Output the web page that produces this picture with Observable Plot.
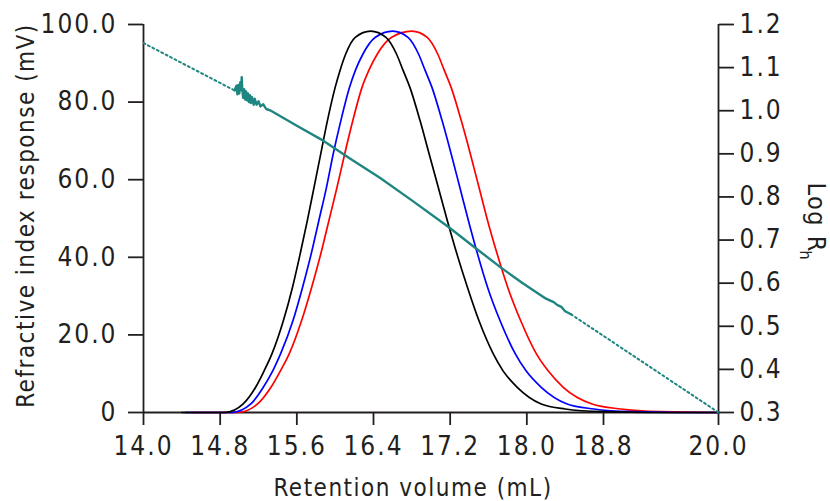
<!DOCTYPE html>
<html>
<head>
<meta charset="utf-8">
<script src="https://cdn.jsdelivr.net/npm/d3@7"></script>
<script src="https://cdn.jsdelivr.net/npm/@observablehq/plot@0.6"></script>
<style>
  html, body { margin: 0; padding: 0; background: #ffffff; }
  #chart svg text { letter-spacing: 2px; }
  #chart svg g[aria-label="text"] text { letter-spacing: 1.5px; }
</style>
</head>
<body>
<div id="chart"></div>
<script>
// ---- tick labels ----
const xTicks = [14.0, 14.8, 15.6, 16.4, 17.2, 18.0, 18.8, 20.0];
const leftTicks = [0, 20, 40, 60, 80, 100];
const rightTicks = [0.3, 0.4, 0.5, 0.6, 0.7, 0.8, 0.9, 1.0, 1.1, 1.2];

// ---- refractive index traces (retention volume mL, response mV) ----
const blackX = [14.40, 14.85, 15.04, 15.17, 15.26, 15.34, 15.46, 15.555, 15.635, 15.71, 15.78, 15.85, 15.92, 16.00, 16.05, 16.11, 16.21, 16.37, 16.53, 16.64, 16.71, 16.78, 16.885, 16.98, 17.075, 17.17, 17.27, 17.38, 17.50, 17.65, 17.75, 17.90, 18.15, 18.40, 18.80, 19.30, 20.00];
const blackY = [0, 0, 2.2, 6.5, 10.8, 15.1, 23.7, 32.3, 40.9, 49.5, 58.1, 66.7, 75.3, 83.8, 88.1, 92.4, 96.7, 98.3, 96.7, 92.4, 88.1, 83.8, 75.3, 66.7, 58.1, 49.5, 40.9, 32.3, 23.7, 15.1, 10.8, 6.5, 2.2, 0.9, 0.2, 0, 0];

const blueX = [14.44, 14.92, 15.12, 15.25, 15.35, 15.43, 15.56, 15.66, 15.75, 15.83, 15.91, 15.98, 16.06, 16.15, 16.21, 16.29, 16.42, 16.60, 16.76, 16.87, 16.94, 17.01, 17.115, 17.21, 17.30, 17.39, 17.485, 17.59, 17.72, 17.88, 17.99, 18.15, 18.42, 18.70, 19.10, 19.60, 20.00];
const blueY = [0, 0, 2.2, 6.5, 10.8, 15.1, 23.7, 32.3, 40.9, 49.5, 58.1, 66.7, 75.3, 83.8, 88.1, 92.4, 96.7, 98.3, 96.7, 92.4, 88.1, 83.8, 75.3, 66.7, 58.1, 49.5, 40.9, 32.3, 23.7, 15.1, 10.8, 6.5, 2.2, 0.9, 0.2, 0, 0];

const redX = [14.50, 14.98, 15.19, 15.33, 15.43, 15.52, 15.65, 15.755, 15.85, 15.935, 16.02, 16.10, 16.185, 16.28, 16.35, 16.44, 16.59, 16.80, 16.96, 17.07, 17.14, 17.21, 17.315, 17.41, 17.50, 17.59, 17.69, 17.80, 17.935, 18.10, 18.22, 18.38, 18.68, 18.98, 19.40, 19.90, 20.00];
const redY = [0, 0, 2.2, 6.5, 10.8, 15.1, 23.7, 32.3, 40.9, 49.5, 58.1, 66.7, 75.3, 83.8, 88.1, 92.4, 96.7, 98.3, 96.7, 92.4, 88.1, 83.8, 75.3, 66.7, 58.1, 49.5, 40.9, 32.3, 23.7, 15.1, 10.8, 6.5, 2.2, 0.9, 0.2, 0, 0];

// ---- Log Rh (right axis) ----
const rhX = [14.95, 14.97, 14.98, 14.99, 15.00, 15.01, 15.02, 15.025, 15.03, 15.04, 15.05, 15.06, 15.07, 15.08, 15.09, 15.10, 15.11, 15.12, 15.13, 15.15, 15.16, 15.18, 15.20, 15.22, 15.25, 15.28, 15.33, 15.60, 15.88, 16.15, 16.47, 16.80, 17.19, 17.45, 17.73, 17.95, 18.20, 18.28, 18.32, 18.36, 18.40, 18.46];
const rhLog = [1.047, 1.058, 1.038, 1.060, 1.040, 1.066, 1.048, 1.078, 1.052, 1.030, 1.050, 1.026, 1.045, 1.024, 1.040, 1.020, 1.036, 1.018, 1.032, 1.014, 1.028, 1.014, 1.022, 1.010, 1.015, 1.004, 1.000, 0.965, 0.930, 0.890, 0.844, 0.792, 0.729, 0.684, 0.636, 0.601, 0.564, 0.556, 0.549, 0.545, 0.535, 0.528];
const rhDotStartX = [14.00, 14.95];
const rhDotStartLog = [1.157, 1.047];
const rhDotEndX = [18.46, 20.00];
const rhDotEndLog = [0.528, 0.300];

// ---- build tables ----
const logMin = 0.3, logMax = 1.2;
const toY = v => (v - logMin) / (logMax - logMin) * 100;
const fromY = y => logMin + y / 100 * (logMax - logMin);

const series = [
  {name: "red", color: "#e8262d", xs: redX, ys: redY},
  {name: "blue", color: "#3b4cc0", xs: blueX, ys: blueY},
  {name: "black", color: "#141414", xs: blackX, ys: blackY}
];
const riRows = series.flatMap(s => s.xs.map((x, i) => ({x, y: s.ys[i], name: s.name})));
const rhRows = rhX.map((x, i) => ({x, y: toY(rhLog[i])}));
const dotStart = rhDotStartX.map((x, i) => ({x, y: toY(rhDotStartLog[i])}));
const dotEnd = rhDotEndX.map((x, i) => ({x, y: toY(rhDotEndLog[i])}));

const teal = "#1e8580";
const ink = "#231f20";
const fontFamily = "'Liberation Sans Narrow', 'DejaVu Sans Condensed', 'Liberation Sans', sans-serif";

const chart = Plot.plot({
  width: 830,
  height: 501,
  marginLeft: 143,
  marginRight: 112,
  marginTop: 24,
  marginBottom: 89,
  style: {fontFamily, fontSize: "26px", color: ink, background: "#ffffff", overflow: "visible"},
  x: {domain: [14, 20]},
  y: {domain: [0, 100]},
  color: {domain: series.map(s => s.name), range: series.map(s => s.color)},
  marks: [
    Plot.ruleX([14, 20], {stroke: ink, strokeWidth: 1.8}),
    Plot.ruleY([0], {stroke: ink, strokeWidth: 1.8}),
    Plot.axisX({ticks: xTicks, tickSize: 13, tickPadding: 11, strokeWidth: 1.8, tickFormat: d => d.toFixed(1), label: null}),
    Plot.axisY({ticks: leftTicks, tickSize: 15, tickPadding: 11, strokeWidth: 1.8, tickFormat: d => d === 0 ? "0" : d.toFixed(1), label: null}),
    Plot.axisY({anchor: "right", ticks: rightTicks.map(toY), tickSize: 15, tickPadding: 6, strokeWidth: 1.8, tickFormat: d => fromY(d).toFixed(1), label: null}),
    Plot.line(riRows, {x: "x", y: "y", z: "name", stroke: "name", strokeWidth: 1.7, curve: "monotone-x"}),
    Plot.line(dotStart, {x: "x", y: "y", stroke: teal, strokeWidth: 2, strokeDasharray: "2,3"}),
    Plot.line(dotEnd, {x: "x", y: "y", stroke: teal, strokeWidth: 2, strokeDasharray: "2,3"}),
    Plot.line(rhRows, {x: "x", y: "y", stroke: teal, strokeWidth: 2.4, curve: "linear"}),
    Plot.text(["Retention volume (mL)"], {frameAnchor: "bottom", lineAnchor: "bottom", textAnchor: "middle", dx: -18, dy: 83, fontSize: 24, fill: ink}),
    Plot.text(["Refractive index response (mV)"], {frameAnchor: "left", lineAnchor: "bottom", textAnchor: "middle", rotate: -90, dx: -110, dy: -3, fontSize: 24, fill: ink}),
    Plot.text(["Log R"], {frameAnchor: "right", lineAnchor: "bottom", textAnchor: "start", rotate: 90, dx: 89, dy: -36, fontSize: 25, fill: ink}),
    Plot.text(["h"], {frameAnchor: "right", lineAnchor: "bottom", textAnchor: "start", rotate: 90, dx: 81, dy: 32, fontSize: 16, fill: ink})
  ]
});
document.getElementById("chart").appendChild(chart);
</script>
</body>
</html>
